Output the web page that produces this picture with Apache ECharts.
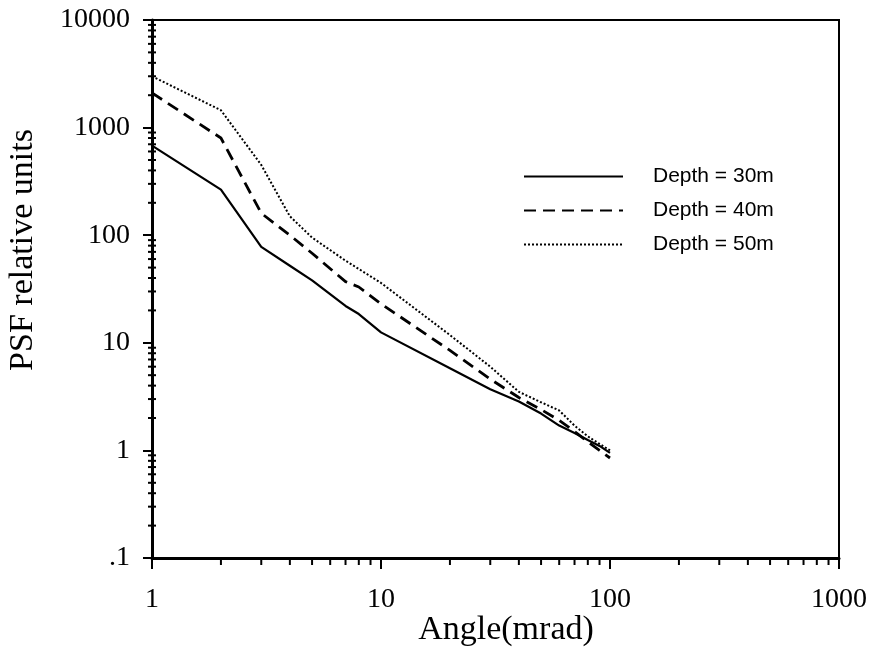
<!DOCTYPE html>
<html><head><meta charset="utf-8">
<script src="https://cdn.jsdelivr.net/npm/echarts@6/dist/echarts.min.js"></script>
<style>html,body{margin:0;padding:0;background:#fff}#c{width:871px;height:654px}</style>
</head><body><div id="c"></div>
<script>
// Angle (mrad) sample points and PSF values
var angle30 = [1, 2, 3, 4, 5, 7, 8, 10, 20, 30, 40, 50, 60, 70, 80, 90, 100];
var psf30   = [680, 265, 78, 52, 38, 22, 18.5, 12.5, 5.8, 3.7, 2.85, 2.2, 1.7, 1.45, 1.25, 1.1, 0.95];
var angle40 = [1, 2, 3, 4, 5, 7, 8, 10, 20, 30, 40, 50, 60, 70, 80, 90, 100];
var psf40   = [2100, 800, 160, 100, 68, 37, 33, 23, 8.5, 4.6, 3.1, 2.4, 1.9, 1.5, 1.2, 1.0, 0.85];
var angle50 = [1, 2, 3, 4, 5, 7, 10, 20, 30, 40, 50, 60, 70, 80, 90, 100];
var psf50   = [3000, 1450, 450, 150, 95, 58, 36, 11.8, 6.0, 3.5, 2.8, 2.35, 1.7, 1.35, 1.15, 1.0];
var seriesNames = ['Depth = 30m', 'Depth = 40m', 'Depth = 50m'];
var xTitle = 'Angle(mrad)';
var yTitle = 'PSF relative units';
var xMinorTicks = [2,3,4,5,6,7,8,9,20,30,40,50,60,70,80,90,200,300,400,500,600,700,800,900];
var yMinorTicks = [0.2,0.3,0.4,0.5,0.6,0.7,0.8,0.9,2,3,4,5,6,7,8,9,20,30,40,50,60,70,80,90,200,300,400,500,600,700,800,900,2000,3000,4000,5000,6000,7000,8000,9000];

function pairs(xs, ys){ return xs.map(function(x,i){return [x, ys[i]];}); }

var chart = echarts.init(document.getElementById('c'));
var serif = 'Liberation Serif';
chart.setOption({
  backgroundColor: '#fff',
  animation: false,
  grid: {left: 152, top: 20, right: 32, bottom: 96, show: true, borderColor: '#000', borderWidth: 2, backgroundColor: 'transparent'},
  legend: {
    orient: 'vertical', left: 518, top: 161, itemWidth: 99, itemHeight: 14, itemGap: 13,
    data: seriesNames,
    itemStyle: {opacity: 0},
    textStyle: {fontFamily: 'Liberation Sans', fontSize: 21, color: '#000', padding: [0,0,0,25]},
    inactiveColor: '#000'
  },
  graphic: [
    {type: 'text', x: 506, y: 630, silent: true,
     style: {text: xTitle, font: '34px "Liberation Serif"', fill: '#000', textAlign: 'center', textVerticalAlign: 'middle'}},
    {type: 'text', x: 23, y: 250, rotation: Math.PI / 2, silent: true,
     style: {text: yTitle, font: '34px "Liberation Serif"', fill: '#000', textAlign: 'center', textVerticalAlign: 'middle'}}
  ],
  xAxis: {
    type: 'log', logBase: 10, min: 1, max: 1000,
    axisLine: {show: true, lineStyle: {color: '#000', width: 3}},
    axisTick: {show: true, inside: false, length: 11, lineStyle: {color: '#000', width: 2}},
    axisLabel: {fontFamily: serif, fontSize: 28, color: '#000', margin: 28,
      formatter: function(v){ return String(Math.round(v)); }},
    splitLine: {show: false}
  },
  yAxis: {
    type: 'log', logBase: 10, min: 0.1, max: 10000,
    axisLine: {show: true, lineStyle: {color: '#000', width: 3}},
    axisTick: {show: true, inside: false, length: 9, lineStyle: {color: '#000', width: 2}},
    axisLabel: {fontFamily: serif, fontSize: 28, color: '#000', margin: 22,
      formatter: function(v){ return v < 0.5 ? '.1' : String(Math.round(v)); }},
    splitLine: {show: false}
  },
  series: [
    {name: seriesNames[0], type: 'line', data: pairs(angle30, psf30), symbol: 'none',
     lineStyle: {color: '#000', width: 2.2, type: 'solid'}, itemStyle: {color: '#000'}},
    {name: seriesNames[1], type: 'line', data: pairs(angle40, psf40), symbol: 'none',
     lineStyle: {color: '#000', width: 2.8, type: [12, 7]}, itemStyle: {color: '#000'}},
    {name: seriesNames[2], type: 'line', data: pairs(angle50, psf50), symbol: 'none',
     lineStyle: {color: '#000', width: 2, type: [2, 2]}, itemStyle: {color: '#000'}},
    {type: 'custom', silent: true, clip: false, data: xMinorTicks.map(function(v){return [v, 0.1];}),
     renderItem: function(params, api){
       var p = api.coord([api.value(0), api.value(1)]);
       return {type: 'line', shape: {x1: p[0], y1: p[1], x2: p[0], y2: p[1] + 7}, style: {stroke: '#000', lineWidth: 2}};
     }},
    {type: 'custom', silent: true, clip: false, data: yMinorTicks.map(function(v){return [1, v];}),
     renderItem: function(params, api){
       var p = api.coord([api.value(0), api.value(1)]);
       return {type: 'line', shape: {x1: p[0] - 4, y1: p[1], x2: p[0] + 4, y2: p[1]}, style: {stroke: '#000', lineWidth: 2}};
     }}
  ]
});
</script></body></html>
